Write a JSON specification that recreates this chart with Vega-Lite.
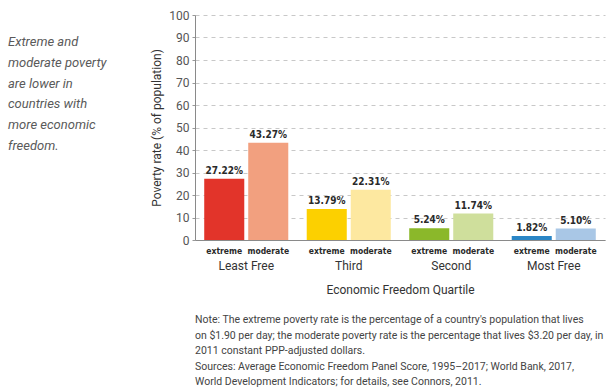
{
  "$schema": "https://vega.github.io/schema/vega-lite/v6.json",
  "padding": {"left": 8, "top": 9, "right": 2, "bottom": 2},
  "background": "white",
  "config": {"view": {"stroke": null}, "font": "Roboto", "axisY": {"tickCount": 11, "labelOverlap": false}},
  "spacing": 18,
  "hconcat": [
    {
      "width": 124,
      "height": 225,
      "data": {"values": [{"note": "Extreme and\nmoderate poverty\nare lower in\ncountries with\nmore economic\nfreedom."}]},
      "mark": {"type": "text", "align": "left", "baseline": "middle", "lineBreak": "\n", "lineHeight": 20.8, "fontSize": 13, "fontStyle": "italic", "font": "Roboto", "color": "#5a5a5a"},
      "encoding": {
        "x": {"datum": 0, "type": "quantitative", "scale": {"domain": [0, 1]}, "axis": null},
        "y": {"datum": 88, "type": "quantitative", "scale": {"domain": [0, 100]}, "axis": null},
        "text": {"field": "note"}
      }
    },
    {
      "width": 410,
      "height": 225,
      "title": {
        "text": [
          "Note: The extreme poverty rate is the percentage of a country's population that lives",
          "on $1.90 per day; the moderate poverty rate is the percentage that lives $3.20 per day, in",
          "2011 constant PPP-adjusted dollars.",
          "Sources: Average Economic Freedom Panel Score, 1995–2017; World Bank, 2017,",
          "World Development Indicators; for details, see Connors, 2011."
        ],
        "orient": "bottom",
        "anchor": "start",
        "frame": "group",
        "offset": 20,
        "fontSize": 10.5,
        "fontWeight": "normal",
        "font": "Roboto",
        "color": "#444444",
        "lineHeight": 15.6
      },
      "data": {"values": [
        {"quartile": "Least Free", "type": "extreme", "key": "Least Free extreme", "rate": 27.22, "label": "27.22%"},
        {"quartile": "Least Free", "type": "moderate", "key": "Least Free moderate", "rate": 43.27, "label": "43.27%"},
        {"quartile": "Third", "type": "extreme", "key": "Third extreme", "rate": 13.79, "label": "13.79%"},
        {"quartile": "Third", "type": "moderate", "key": "Third moderate", "rate": 22.31, "label": "22.31%"},
        {"quartile": "Second", "type": "extreme", "key": "Second extreme", "rate": 5.24, "label": "5.24%"},
        {"quartile": "Second", "type": "moderate", "key": "Second moderate", "rate": 11.74, "label": "11.74%"},
        {"quartile": "Most Free", "type": "extreme", "key": "Most Free extreme", "rate": 1.82, "label": "1.82%"},
        {"quartile": "Most Free", "type": "moderate", "key": "Most Free moderate", "rate": 5.10, "label": "5.10%"}
      ]},
      "encoding": {
        "x": {
          "field": "quartile", "type": "nominal",
          "sort": ["Least Free", "Third", "Second", "Most Free"],
          "scale": {"paddingInner": 0.18, "paddingOuter": 0.09},
          "axis": {
            "title": "Economic Freedom Quartile", "titleFontSize": 12, "titleFontWeight": "normal", "titleColor": "#333333", "titlePadding": 13, "titleFont": "Roboto",
            "labelAngle": 0, "labelFontSize": 12, "labelColor": "#333333", "labelPadding": 20, "labelFont": "Roboto",
            "ticks": false, "domainColor": "#8a8a8a", "domainWidth": 1.2, "grid": false
          }
        },
        "xOffset": {"field": "type", "type": "nominal", "sort": ["extreme", "moderate"], "scale": {"paddingInner": 0.09}}
      },
      "layer": [
        {
          "mark": {"type": "bar"},
          "encoding": {
            "y": {
              "field": "rate", "type": "quantitative",
              "scale": {"domain": [0, 100], "nice": false},
              "axis": {
                "title": "Poverty rate (% of population)", "titleFontSize": 12, "titleFontWeight": "normal", "titleColor": "#333333", "titlePadding": 5, "titleFont": "Roboto",
                "values": [0, 10, 20, 30, 40, 50, 60, 70, 80, 90, 100], "tickCount": 11, "labelOverlap": false,
                "labelFontSize": 12, "labelColor": "#555555", "labelFont": "Roboto", "labelPadding": 3,
                "tickSize": 3, "tickColor": "#999999", "domainColor": "#8a8a8a",
                "gridColor": "#c8c8c8", "gridDash": [4, 4], "gridWidth": 1
              }
            },
            "color": {
              "field": "key", "type": "nominal", "legend": null,
              "scale": {
                "domain": ["Least Free extreme", "Least Free moderate", "Third extreme", "Third moderate", "Second extreme", "Second moderate", "Most Free extreme", "Most Free moderate"],
                "range": ["#e2342a", "#f2a07f", "#fcd000", "#fde8a0", "#8bb82a", "#cfdf9c", "#2a86c6", "#a9c7e6"]
              }
            }
          }
        },
        {
          "mark": {"type": "text", "baseline": "bottom", "dy": -3, "font": "DejaVu Sans Condensed", "fontWeight": "bold", "fontSize": 10, "color": "#2a2a2a"},
          "encoding": {
            "y": {"field": "rate", "type": "quantitative"},
            "text": {"field": "label"}
          }
        },
        {
          "mark": {"type": "text", "baseline": "top", "dy": 7, "font": "DejaVu Sans Condensed", "fontWeight": "bold", "fontSize": 8.5, "color": "#2a2a2a"},
          "encoding": {
            "y": {"datum": 0, "type": "quantitative"},
            "text": {"field": "type"}
          }
        }
      ]
    }
  ]
}
